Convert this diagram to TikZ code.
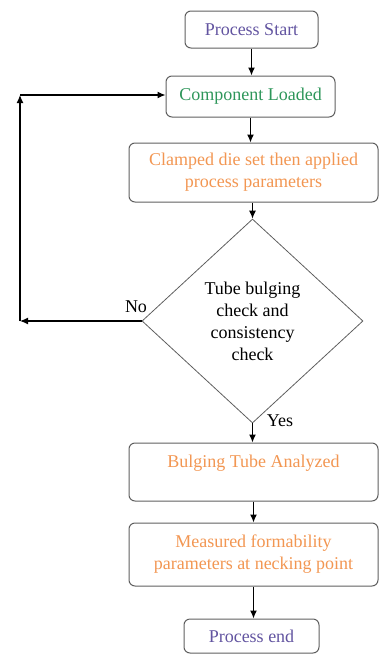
\documentclass[tikz,border=0pt]{standalone}
\usepackage{fontspec}
\setmainfont{Liberation Serif}
\usetikzlibrary{shapes.geometric,arrows.meta}
\definecolor{startcol}{RGB}{98,84,160}
\definecolor{loadcol}{RGB}{46,150,90}
\definecolor{stepcol}{RGB}{242,150,82}
\definecolor{edgecol}{RGB}{95,95,95}

\begin{document}
\begin{tikzpicture}[x=1pt,y=-1pt,
    box/.style={draw=edgecol,line width=1pt,rounded corners=6pt,align=center,inner sep=0pt,font=\fontsize{18}{22}\selectfont},
    decide/.style={diamond,draw=edgecol,line width=0.8pt,align=center,inner sep=0pt,aspect=1.08,font=\fontsize{18}{22}\selectfont},
    flow/.style={-{Latex[length=8pt,width=7pt]},line width=1.2pt}]
    \useasboundingbox (0,0) rectangle (379,654);
    % Draw the process boxes
    \node[box,text=startcol,minimum width=133pt,minimum height=37pt] (start) at (251.5,29.5) {Process Start};
    \node[box,text=loadcol,minimum width=169pt,minimum height=41pt] (load) at (250.5,96.5) {Component Loaded};
    \node[box,text=stepcol,minimum width=249pt,minimum height=59pt] (clamp) at (253.5,172.5) {Clamped die set then applied\\process parameters};
    \node[decide,minimum width=221pt,minimum height=204pt] (check) at (252.5,321) {Tube bulging\\check and\\consistency\\check};
    \node[box,text=stepcol,minimum width=249pt,minimum height=58pt] (bulge) at (253.5,472) {Bulging Tube Analyzed\\\mbox{}};
    \node[box,text=stepcol,minimum width=249pt,minimum height=63pt] (measure) at (253.5,554.5) {Measured formability\\parameters at necking point};
    \node[box,text=startcol,minimum width=135pt,minimum height=34pt] (stop) at (251.5,636) {Process end};
    % Draw the main flow
    \draw[flow] (start.south) -- (start.south |- load.north);
    \draw[flow] (load.south) -- (load.south |- clamp.north);
    \draw[flow] (clamp.south -| check.north) -- (check.north);
    \draw[flow] (check.south) -- (check.south |- bulge.north);
    \draw[flow] (bulge.south) -- (bulge.south |- measure.north);
    \draw[flow] (measure.south) -- (measure.south |- stop.north);
    % Draw the loop back
    \coordinate (loopdown) at (20,321);
    \coordinate (loopup) at (20,95);
    \draw[flow] (check.west) -- (loopdown);
    \draw[flow] (loopdown) -- (loopup);
    \draw[flow] (loopup) -- (loopup -| load.west);
    % Label the branches
    \node[font=\fontsize{18}{22}\selectfont] (nolabel) at (136,307) {No};
    \node[font=\fontsize{18}{22}\selectfont] (yeslabel) at (280,421) {Yes};
\end{tikzpicture}
\end{document}
